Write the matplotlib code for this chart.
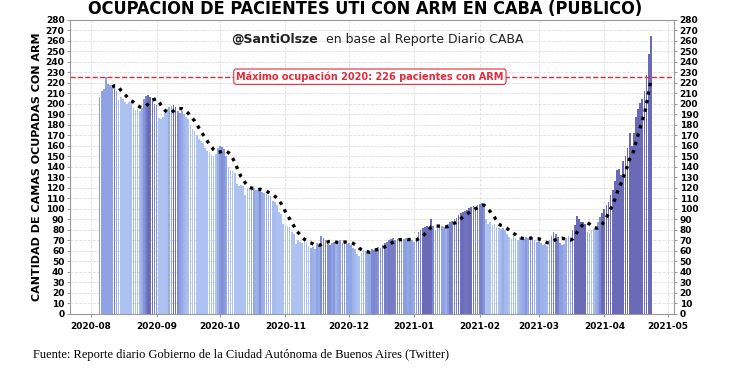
import matplotlib
matplotlib.use('Agg')
import matplotlib.pyplot as plt
import matplotlib.dates as mdates
from matplotlib.colors import LinearSegmentedColormap
import numpy as np
import pandas as pd

# DATA: daily patients in ICU with mechanical ventilation
START = '2020-08-05'
aug = [207, 212, 214, 226, 219, 218, 216, 217, 212, 204, 207, 205, 202, 200,
       202, 201, 196, 194, 195, 193, 196, 205, 208, 209, 207, 206, 200]
sep = [199, 187, 186, 188, 191, 195, 197, 198, 199, 197, 193, 191, 193, 190,
       188, 186, 180, 176, 174, 170, 167, 165, 163, 158, 155, 154, 151, 150,
       152, 158]
oct_ = [160, 159, 157, 150, 140, 137, 136, 134, 124, 122, 123, 122, 113, 120,
        120, 119, 120, 118, 118, 117, 116, 115, 114, 113, 112, 108, 107, 104,
        97, 95, 86]
nov = [85, 84, 83, 78, 76, 67, 70, 69, 68, 70, 69, 65, 63, 64, 62, 68, 67, 74,
       72, 70, 67, 66, 68, 69, 67, 69, 70, 68, 69, 67]
dec = [68, 66, 63, 62, 57, 55, 58, 61, 60, 61, 60, 62, 61, 63, 64, 63, 66, 68,
       69, 70, 71, 72, 70, 71, 72, 70, 71, 72, 70, 71, 70]
jan = [69, 71, 78, 80, 82, 83, 84, 83, 90, 84, 80, 82, 83, 84, 83, 85, 86, 88,
       89, 90, 91, 94, 96, 97, 98, 99, 101, 102, 103, 102, 104]
feb = [105, 106, 104, 90, 86, 88, 85, 86, 83, 82, 81, 82, 80, 76, 73, 71, 74,
       72, 70, 73, 72, 71, 73, 72, 74, 73, 70, 69]
mar = [70, 68, 66, 67, 65, 70, 74, 78, 76, 73, 68, 66, 67, 72, 74, 73, 80, 85,
       93, 90, 88, 88, 86, 78, 77, 80, 81, 83, 88, 92, 96]
apr = [100, 104, 107, 113, 118, 127, 137, 138, 132, 146, 150, 158, 172, 160,
       172, 188, 195, 201, 205, 212, 228, 248, 265]

MAX_2020 = 226
TITLE = 'OCUPACIÓN DE PACIENTES UTI CON ARM EN CABA (PÚBLICO)'
YLABEL = 'CANTIDAD DE CAMAS OCUPADAS CON ARM'
MAX_LABEL = 'Máximo ocupación 2020: 226 pacientes con ARM'
SOURCE = 'Fuente: Reporte diario Gobierno de la Ciudad Autónoma de Buenos Aires (Twitter)'

values = aug + sep + oct_ + nov + dec + jan + feb + mar + apr
dates = pd.date_range(START, periods=len(values), freq='D')
serie = pd.Series(values, index=dates)
media = serie.rolling(7).mean()

# bar colour from the weekly change (rising -> darker)
cambio = serie.diff(7).fillna(0).clip(-12, 12)
cmap = LinearSegmentedColormap.from_list('azules', ['#adc2f0', '#8fa3e4', '#6a6ab8'])
colores = [cmap((c + 12) / 24) for c in cambio]

fig = plt.figure(figsize=(7.3, 3.73), dpi=100)
ax = fig.add_axes([0.0959, 0.1582, 0.8274, 0.7882])

ax.bar(serie.index, serie.values, width=0.8, color=colores, linewidth=0, zorder=2)
ax.plot(media.index, media.values, color='black', linestyle=(0, (1, 1.6)),
        linewidth=2.4, zorder=3)

ax.axhline(MAX_2020, color='#e8283c', linestyle='--', linewidth=1, zorder=4)
ax.text(pd.Timestamp('2020-12-11'), MAX_2020, MAX_LABEL, color='#e8283c',
        fontsize=7, fontweight='bold', ha='center', va='center', zorder=5,
        bbox=dict(boxstyle='round,pad=0.25', fc='white', ec='#e8283c', lw=0.8))

ax.set_xlim(pd.Timestamp('2020-07-22'), pd.Timestamp('2021-05-04'))
ax.set_ylim(0, 280)
ax.set_yticks(np.arange(0, 281, 10))
ax.xaxis.set_major_locator(mdates.MonthLocator())
ax.xaxis.set_major_formatter(mdates.DateFormatter('%Y-%m'))
ax.tick_params(axis='both', labelsize=6.5, length=2.5, width=0.6, color='#888888',
               pad=1.5, right=True, labelright=True)
for lab in ax.get_xticklabels() + ax.get_yticklabels():
    lab.set_fontweight('bold')
ax.tick_params(axis='x', pad=3)

ax.grid(color='#dddddd', linestyle='--', linewidth=0.6, zorder=0)
ax.set_axisbelow(True)
for s in ax.spines.values():
    s.set_color('#999999')
    s.set_linewidth(0.8)

ax.set_ylabel(YLABEL, fontsize=8, fontweight='bold', labelpad=3)

fig.text(0.5, 0.962, TITLE, ha='center', va='baseline', fontsize=13,
         fontweight='bold', fontstretch='condensed', family='DejaVu Sans')
ax.text(0.41, 0.935, '@SantiOlsze', transform=ax.transAxes, ha='right', va='center',
        fontsize=9, fontweight='bold', color='#222222')
ax.text(0.424, 0.935, 'en base al Reporte Diario CABA', transform=ax.transAxes,
        ha='left', va='center', fontsize=9, color='#222222')

fig.text(0.045, 0.048, SOURCE, ha='left', va='center', fontsize=9,
         family='Liberation Serif')

fig.savefig('out.png', dpi=100)
plt.close(fig)
